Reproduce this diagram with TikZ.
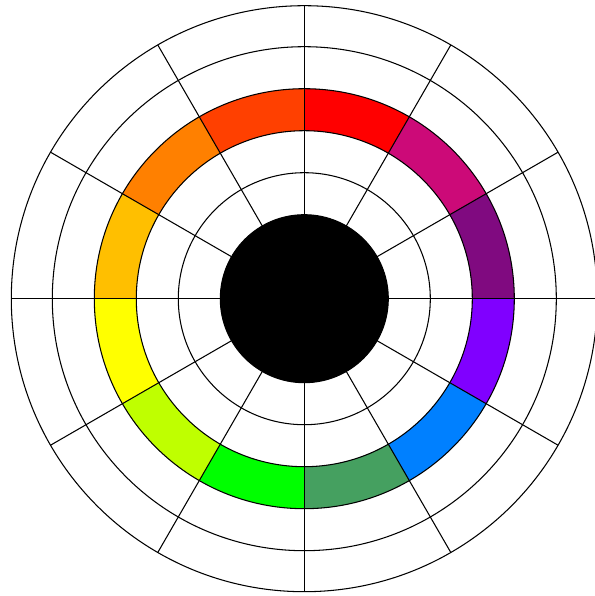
\documentclass[tikz,border=0pt]{standalone}
\usepackage{tikz}
\usetikzlibrary{calc}

\definecolor{wRed}{HTML}{FF0000}
\definecolor{wMagenta}{HTML}{CC0A78}
\definecolor{wPurple}{HTML}{800A80}
\definecolor{wViolet}{HTML}{8000FF}
\definecolor{wBlue}{HTML}{0080FF}
\definecolor{wSea}{HTML}{45A060}
\definecolor{wGreen}{HTML}{00FF00}
\definecolor{wLime}{HTML}{BFFF00}
\definecolor{wYellow}{HTML}{FFFF00}
\definecolor{wAmber}{HTML}{FFBF00}
\definecolor{wOrange}{HTML}{FF8000}
\definecolor{wRedOrange}{HTML}{FF4000}

\begin{document}
\begin{tikzpicture}[
  x=1cm,y=1cm,
  ring/.style={draw, line width=0.6pt},
  spoke/.style={line width=0.6pt},
  hub/.style={draw, fill=black, line width=0.6pt}
]
\useasboundingbox (-6.086,-5.946) rectangle (5.794,5.974);
% colour segments, 30 degrees each
\foreach \a/\c in {60/wRed, 30/wMagenta, 0/wPurple, -30/wViolet, -60/wBlue, -90/wSea,
  -120/wGreen, -150/wLime, -180/wYellow, 150/wAmber, 120/wOrange, 90/wRedOrange}
  \fill[\c] (\a:3.36) arc[start angle=\a, end angle=\a+30, radius=3.36]
    -- (\a+30:4.2) arc[start angle=\a+30, end angle=\a, radius=4.2] -- cycle;
% circles
\foreach \r in {2.52,3.36,4.2,5.04,5.86}
  \draw[ring] (0,0) circle[radius=\r];
% spokes
\foreach \a in {0,30,...,150}
  \draw[spoke] (\a:5.86) -- (\a+180:5.86);
\draw[spoke] (0,0) -- (6.2,0);
% hub
\draw[hub] (0,0) circle[radius=1.68];
\end{tikzpicture}
\end{document}
